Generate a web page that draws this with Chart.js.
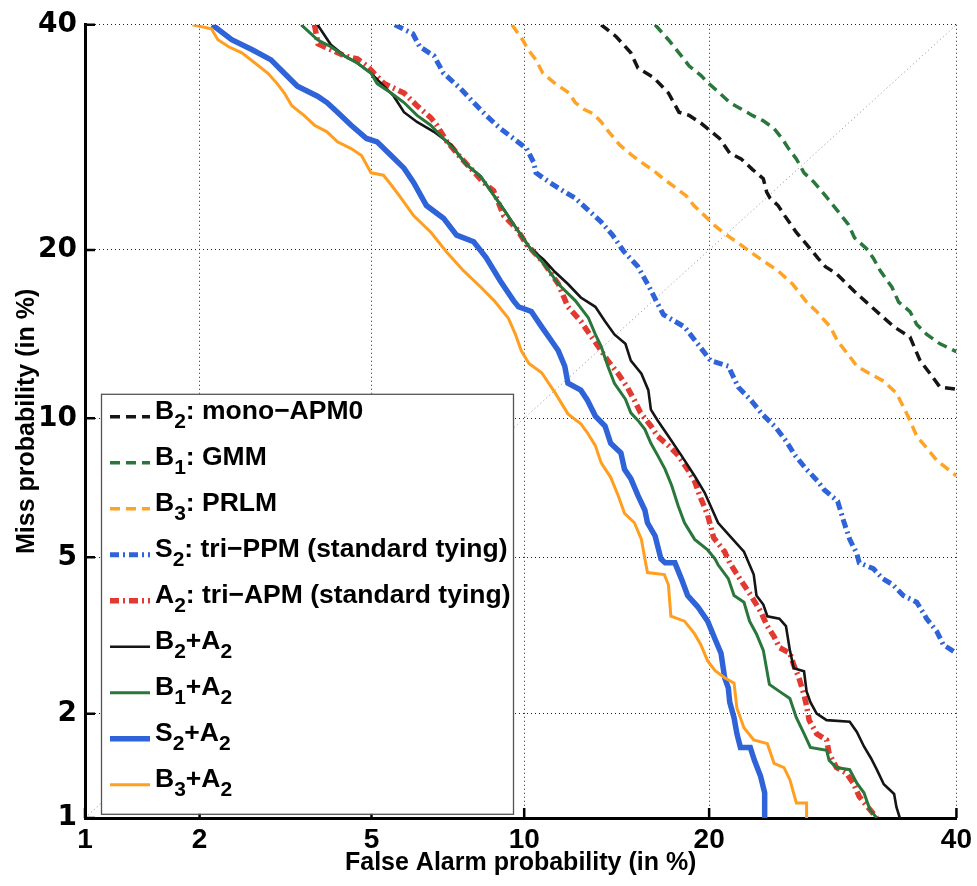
<!DOCTYPE html>
<html><head><meta charset="utf-8">
<script src="https://cdn.jsdelivr.net/npm/chart.js@4.4.1/dist/chart.umd.min.js"></script>
<style>html,body{margin:0;padding:0;background:#fff;}canvas{display:block;}</style>
</head><body>
<canvas id="c" width="977" height="886" style="width:977px;height:886px"></canvas>
<script>
// ---------------- data (percent: [false alarm, miss]) ----------------
const tickValues = [1, 2, 5, 10, 20, 40];
const xTitle = 'False Alarm probability (in %)';
const yTitle = 'Miss probability (in %)';
const seriesNames = ['B₂: mono−APM0', 'B₁: GMM', 'B₃: PRLM', 'S₂: tri−PPM (standard tying)',
  'A₂: tri−APM (standard tying)', 'B₂+A₂', 'B₁+A₂', 'S₂+A₂', 'B₃+A₂'];

const B2_mono = [[13.6,40],[14.4,38.8],[15.2,37.2],[15.6,35.7],[16.5,34.8],[17.4,33.3],[18.05,31.5],[18.7,31.2],[19.45,30.5],[19.9,30.0],[20.7,29.1],[21.4,27.8],[22.2,27.3],[23.0,26.4],[23.8,25.6],[24.05,24.5],[24.3,24.0],[24.9,23.4],[25.4,22.6],[26.3,21.3],[27.1,20.4],[28.0,19.4],[28.6,18.8],[29.5,18.3],[31.0,17.1],[32.0,16.4],[33.2,15.6],[34.4,14.85],[35.8,14.25],[36.7,12.9],[37.6,12.2],[38.5,11.5],[40,11.4]];
const B1_gmm = [[16.6,40],[17.4,38.5],[18.05,37.2],[18.7,35.9],[19.45,35.0],[19.9,34.3],[20.7,33.3],[21.4,32.4],[22.2,31.8],[23.0,31.2],[23.8,30.7],[24.6,30.0],[25.2,29.1],[25.7,28.2],[26.3,27.3],[26.9,26.1],[27.7,25.3],[28.6,24.2],[29.5,23.1],[30.5,21.9],[31.0,20.9],[32.0,20.1],[32.6,19.4],[33.2,18.5],[34.2,17.4],[34.8,16.4],[35.8,15.8],[36.4,15.0],[37.3,14.4],[38.5,13.85],[40,13.4]];
const B3_prlm = [[9.5,40],[9.93,38.5],[10.17,37.5],[10.5,36.5],[10.8,35.2],[11.3,34.3],[12.0,33.3],[12.3,32.4],[12.7,31.8],[13.2,31.35],[13.6,30.6],[14.0,29.7],[14.6,28.5],[15.2,27.7],[15.8,27.0],[16.5,26.3],[17.1,25.6],[17.8,24.9],[18.5,24.2],[19.0,23.4],[19.7,22.6],[20.4,21.8],[21.2,21.1],[22.0,20.5],[22.8,19.9],[23.8,19.2],[24.9,18.5],[26.0,17.6],[27.1,16.4],[27.9,15.8],[29.0,14.85],[29.6,14.0],[30.4,13.3],[31.2,12.6],[32.3,12.2],[33.5,11.8],[34.6,11.2],[35.2,10.55],[35.8,9.9],[36.4,9.2],[37.3,8.7],[38.2,8.2],[40,7.6]];
const S2_ppm = [[5.6,40],[6.1,39.1],[6.3,37.8],[6.73,36.9],[7.03,35.2],[7.6,33.7],[8.05,32.4],[8.5,31.2],[9.04,30.0],[9.56,29.1],[10.1,28.2],[10.4,27.0],[10.5,26.1],[11.1,25.3],[11.8,24.5],[12.3,24.0],[12.9,23.1],[13.6,22.1],[14.2,21.1],[14.8,19.9],[15.6,18.8],[16.25,17.4],[16.7,16.4],[17.1,15.6],[18.4,14.85],[19.2,13.9],[20.1,12.9],[21.3,12.6],[22.0,11.5],[22.9,10.85],[23.7,10.2],[24.7,9.6],[25.5,9.0],[26.2,8.4],[27.0,7.9],[28.0,7.4],[28.5,7.1],[29.6,6.7],[30.1,6.05],[30.6,5.5],[31.2,5.1],[31.4,4.85],[32.6,4.7],[33.4,4.45],[34.3,4.3],[35.2,4.05],[36.4,3.9],[37.3,3.55],[38.2,3.3],[38.8,3.05],[40,2.9]];
const A2_apm = [[3.75,40],[3.82,38.1],[4.37,36.9],[4.66,36.6],[4.89,35.9],[5.32,34.2],[5.85,33.3],[6.22,32.1],[6.63,31.0],[6.82,30.3],[7.12,28.9],[7.6,27.4],[8.05,26.2],[8.4,25.3],[8.78,24.6],[9.17,22.6],[9.68,21.6],[10.1,20.4],[10.83,19.1],[11.5,17.6],[11.95,16.1],[12.57,15.2],[12.9,14.6],[13.45,13.7],[13.95,12.9],[14.5,12.2],[15.0,11.5],[15.4,10.85],[15.75,10.25],[16.35,9.65],[16.75,9.2],[17.4,8.8],[18.0,8.4],[18.6,7.85],[19.05,7.4],[19.45,6.8],[19.9,6.25],[20.3,5.55],[21.05,5.15],[21.4,4.85],[22.1,4.45],[22.9,4.05],[23.6,3.7],[24.1,3.4],[24.6,3.2],[25.0,3.0],[25.8,2.9],[26.1,2.7],[26.5,2.5],[26.9,2.25],[27.1,2.1],[27.3,1.92],[27.9,1.76],[28.7,1.69],[28.9,1.55],[29.5,1.41],[30.3,1.36],[30.9,1.27],[31.4,1.16],[32.3,1.06],[32.9,1.0]];
const B2_A2 = [[3.81,40],[4.08,38.0],[4.37,36.9],[4.66,36.2],[4.99,35.2],[5.14,34.6],[5.57,33.0],[5.85,31.5],[6.22,30.6],[6.73,29.7],[7.26,28.6],[7.6,27.4],[7.8,26.8],[8.3,25.8],[8.67,24.6],[9.17,23.1],[9.68,21.6],[10.26,20.1],[10.83,19.3],[11.36,18.4],[11.95,17.6],[12.57,16.7],[13.3,16.1],[13.8,15.2],[14.3,14.4],[14.9,13.85],[15.2,12.9],[15.8,12.2],[16.2,11.35],[16.35,10.4],[16.75,9.9],[17.4,9.2],[18.2,8.4],[19.05,7.6],[19.7,7.0],[20.6,6.0],[21.4,5.6],[22.4,5.15],[23.1,4.55],[23.3,4.05],[23.8,3.85],[24.1,3.6],[25.0,3.55],[25.5,3.4],[25.8,2.95],[26.1,2.65],[26.9,2.6],[27.1,2.3],[27.4,2.15],[27.9,2.0],[28.7,1.92],[30.6,1.9],[31.2,1.78],[31.8,1.62],[32.4,1.5],[32.9,1.39],[33.5,1.26],[34.4,1.18],[34.6,1.08],[34.9,1.0]];
const B1_A2 = [[3.5,40],[3.81,38.5],[4.08,37.8],[4.37,36.9],[4.66,36.2],[4.99,35.2],[5.14,34.2],[5.5,33.3],[5.85,32.4],[6.22,31.2],[6.63,30.3],[7.03,29.1],[7.46,27.9],[7.8,26.8],[8.3,25.8],[8.67,24.6],[9.17,23.1],[9.68,21.6],[10.26,20.1],[10.9,18.9],[11.5,17.6],[12.3,16.5],[12.95,15.4],[13.3,14.4],[13.6,13.7],[13.95,12.6],[14.3,11.7],[14.9,10.9],[15.2,10.25],[15.6,9.9],[16.0,9.5],[16.35,8.9],[16.75,8.4],[17.2,7.85],[17.6,7.25],[18.0,6.55],[18.4,6.0],[19.05,5.5],[19.9,5.2],[20.4,4.95],[20.6,4.8],[21.3,4.45],[21.7,4.05],[22.4,3.9],[22.8,3.5],[23.3,3.25],[23.8,2.95],[24.25,2.4],[25.0,2.3],[25.8,2.2],[26.3,1.95],[26.9,1.76],[27.4,1.61],[28.7,1.58],[28.9,1.48],[29.5,1.41],[30.6,1.39],[31.2,1.27],[31.8,1.19],[32.3,1.06],[32.9,1.0]];
const S2_A2 = [[2.15,40],[2.4,38.5],[2.69,37.5],[2.98,36.5],[3.2,35.2],[3.43,33.95],[3.81,33.0],[4.0,32.4],[4.22,31.5],[4.52,30.3],[4.88,29.1],[5.14,28.8],[5.5,27.6],[5.85,26.5],[6.12,25.3],[6.5,23.4],[7.03,22.4],[7.46,21.1],[8.05,20.6],[8.5,19.45],[9.04,17.8],[9.56,16.5],[9.76,16.1],[10.3,15.8],[10.75,14.85],[11.2,14.0],[11.5,13.45],[11.8,12.6],[11.95,11.7],[12.57,11.35],[12.9,10.85],[13.3,10.1],[13.8,9.65],[14.1,8.9],[14.65,8.5],[14.85,7.85],[15.2,7.5],[15.6,6.9],[16.0,6.4],[16.15,6.0],[16.6,5.6],[16.95,4.95],[17.2,4.85],[17.8,4.85],[18.2,4.45],[18.6,4.05],[19.25,3.8],[19.9,3.5],[20.4,3.15],[20.8,2.9],[21.05,2.5],[21.3,2.35],[21.4,2.15],[21.7,1.95],[21.9,1.76],[22.15,1.61],[22.85,1.61],[23.15,1.48],[23.6,1.33],[23.9,1.19],[23.9,1.0]];
const B3_A2 = [[1.92,40],[2.14,39.6],[2.22,38.5],[2.36,37.8],[2.54,37.2],[2.73,36.2],[2.93,35.2],[3.08,34.2],[3.2,33.3],[3.33,32.1],[3.55,31.2],[3.75,30.3],[4.0,29.7],[4.22,28.8],[4.52,28.2],[4.76,27.6],[4.99,26.1],[5.3,25.9],[5.5,25.1],[5.77,24.0],[6.12,22.6],[6.64,21.3],[7.13,19.85],[7.7,18.5],[8.3,17.4],[8.8,16.5],[9.35,15.4],[9.64,14.4],[9.88,13.45],[10.2,12.75],[10.75,12.25],[11.36,11.2],[11.95,10.2],[12.57,9.75],[12.9,9.35],[13.3,8.8],[13.6,8.1],[14.1,7.55],[14.5,6.9],[14.85,6.3],[15.4,6.0],[15.8,5.5],[16.0,4.95],[16.15,4.6],[17.15,4.55],[17.4,4.3],[17.55,3.6],[18.4,3.5],[19.05,3.25],[19.45,3.05],[19.9,2.77],[20.4,2.61],[21.05,2.5],[21.7,2.42],[21.9,2.07],[22.4,1.83],[23.1,1.69],[24.1,1.65],[24.6,1.45],[25.35,1.41],[25.8,1.3],[26.3,1.11],[27.1,1.11],[27.1,1.0]];
const diagonal = [[1, 1], [40, 40]];

const seriesData = [B2_mono, B1_gmm, B3_prlm, S2_ppm, A2_apm, B2_A2, B1_A2, S2_A2, B3_A2];

// ---------------- styles ----------------
const seriesStyles = [
  {color: '#151515', width: 3.5, dash: [10, 6]},
  {color: '#2a773b', width: 3.5, dash: [10, 6]},
  {color: '#ffa325', width: 3.5, dash: [10, 6]},
  {color: '#2f63d8', width: 5, dash: [9, 4, 2, 4]},
  {color: '#e23a30', width: 5.5, dash: [9, 4, 2, 4]},
  {color: '#151515', width: 2.6, dash: []},
  {color: '#2a773b', width: 3, dash: []},
  {color: '#2f63d8', width: 5.5, dash: []},
  {color: '#ff9e1f', width: 3, dash: []}
];

// ---------------- probit (normal deviate) scale ----------------
function probit(p) {
  const a = [-3.969683028665376e+01, 2.209460984245205e+02, -2.759285104469687e+02, 1.383577518672690e+02, -3.066479806614716e+01, 2.506628277459239e+00];
  const b = [-5.447609879822406e+01, 1.615858368580409e+02, -1.556989798598866e+02, 6.680131188771972e+01, -1.328068155288572e+01];
  const c = [-7.784894002430293e-03, -3.223964580411365e-01, -2.400758277161838e+00, -2.549732539343734e+00, 4.374664141464968e+00, 2.938163982698783e+00];
  const d = [7.784695709041462e-03, 3.224671290700398e-01, 2.445134137142996e+00, 3.754408661907416e+00];
  const pl = 0.02425, ph = 1 - pl;
  let q, r;
  if (p < pl) {
    q = Math.sqrt(-2 * Math.log(p));
    return (((((c[0]*q+c[1])*q+c[2])*q+c[3])*q+c[4])*q+c[5]) / ((((d[0]*q+d[1])*q+d[2])*q+d[3])*q+1);
  }
  if (p <= ph) {
    q = p - 0.5; r = q * q;
    return (((((a[0]*r+a[1])*r+a[2])*r+a[3])*r+a[4])*r+a[5])*q / (((((b[0]*r+b[1])*r+b[2])*r+b[3])*r+b[4])*r+1);
  }
  q = Math.sqrt(-2 * Math.log(1 - p));
  return -(((((c[0]*q+c[1])*q+c[2])*q+c[3])*q+c[4])*q+c[5]) / ((((d[0]*q+d[1])*q+d[2])*q+d[3])*q+1);
}
function normCdf(z) {
  const t = 1 / (1 + 0.3275911 * Math.abs(z) / Math.SQRT2);
  const e = 1 - (((((1.061405429*t - 1.453152027)*t) + 1.421413741)*t - 0.284496736)*t + 0.254829592)*t*Math.exp(-z*z/2);
  return 0.5 * (1 + (z >= 0 ? e : -e));
}

class ProbitScale extends Chart.LinearScale {
  determineDataLimits() {
    this.min = this.options.min;
    this.max = this.options.max;
  }
  buildTicks() { return tickValues.map(v => ({value: v})); }
  configure() {
    super.configure();
    this._zMin = probit(this.min / 100);
    this._zMax = probit(this.max / 100);
  }
  getPixelForValue(v) {
    return this.getPixelForDecimal((probit(v / 100) - this._zMin) / (this._zMax - this._zMin));
  }
  getValueForPixel(px) {
    return 100 * normCdf(this._zMin + this.getDecimalForPixel(px) * (this._zMax - this._zMin));
  }
}
ProbitScale.id = 'probit';
ProbitScale.defaults = {};
Chart.register(ProbitScale);

// ---------------- plugins ----------------
const innerTicks = {
  id: 'innerTicks',
  afterDatasetsDraw(chart) {
    const {ctx, chartArea: a, scales: {x, y}} = chart;
    ctx.save();
    ctx.strokeStyle = '#000';
    ctx.lineWidth = 2.5;
    ctx.beginPath();
    y.ticks.forEach(t => { const py = y.getPixelForValue(t.value); ctx.moveTo(a.left, py); ctx.lineTo(a.left + 10, py); });
    x.ticks.forEach(t => { const px = x.getPixelForValue(t.value); ctx.moveTo(px, a.bottom); ctx.lineTo(px, a.bottom - 10); });
    ctx.stroke();
    ctx.restore();
  }
};

const subMap = {'₀':'0','₁':'1','₂':'2','₃':'3','₄':'4','₅':'5','₆':'6','₇':'7','₈':'8','₉':'9'};
const detLegend = {
  id: 'detLegend',
  afterDatasetsDraw(chart) {
    const {ctx, chartArea: a} = chart;
    const L = a.left + 16, T = a.top + 369, W = 412, H = 420;
    ctx.save();
    ctx.fillStyle = '#fff';
    ctx.fillRect(L, T, W, H);
    ctx.strokeStyle = '#555';
    ctx.lineWidth = 1.3;
    ctx.strokeRect(L + 0.5, T + 0.5, W, H);
    const bigFont = 'bold 26.5px "Liberation Sans", Arial, sans-serif';
    const subFont = 'bold 21px "Liberation Sans", Arial, sans-serif';
    let row = 0;
    chart.data.datasets.forEach(ds => {
      if (!ds.inLegend) return;
      const yy = T + 23 + 46 * row;
      ctx.save();
      ctx.strokeStyle = ds.borderColor;
      ctx.lineWidth = ds.borderWidth;
      ctx.setLineDash(ds.borderDash || []);
      ctx.beginPath();
      ctx.moveTo(L + 9, yy);
      ctx.lineTo(L + 49, yy);
      ctx.stroke();
      ctx.restore();
      let tx = L + 54;
      const base = yy + 2;
      ctx.fillStyle = '#000';
      ctx.textBaseline = 'alphabetic';
      ctx.textAlign = 'left';
      let buf = '';
      const flush = () => {
        if (!buf) return;
        ctx.font = bigFont;
        ctx.fillText(buf, tx, base);
        tx += ctx.measureText(buf).width;
        buf = '';
      };
      for (const ch of ds.label) {
        if (subMap[ch]) {
          flush();
          ctx.font = subFont;
          ctx.fillText(subMap[ch], tx, base + 9);
          tx += ctx.measureText(subMap[ch]).width;
        } else {
          buf += ch;
        }
      }
      flush();
      row++;
    });
    ctx.restore();
  }
};

// ---------------- chart ----------------
const toPoints = arr => arr.map(([x, y]) => ({x, y}));
const datasets = seriesData.map((arr, i) => ({
  label: seriesNames[i],
  data: toPoints(arr),
  borderColor: seriesStyles[i].color,
  backgroundColor: seriesStyles[i].color,
  borderWidth: seriesStyles[i].width,
  borderDash: seriesStyles[i].dash,
  pointRadius: 0,
  tension: 0,
  fill: false,
  order: seriesData.length - i,
  inLegend: true
}));
datasets.push({
  label: 'diagonal',
  data: toPoints(diagonal),
  borderColor: '#8c8c8c',
  borderWidth: 1,
  borderDash: [1, 3],
  pointRadius: 0,
  fill: false,
  order: 100,
  inLegend: false
});

const sansBold = "'Liberation Sans', Arial, sans-serif";
new Chart(document.getElementById('c'), {
  type: 'line',
  data: {datasets},
  plugins: [innerTicks, detLegend],
  options: {
    responsive: false,
    maintainAspectRatio: false,
    devicePixelRatio: 1,
    animation: false,
    layout: {padding: {top: 18, right: 17, bottom: 0, left: 0}},
    plugins: {legend: {display: false}, tooltip: {enabled: false}},
    scales: {
      x: {
        type: 'probit', min: 1, max: 40, position: 'bottom',
        afterFit(s) { s.height = 68; },
        grid: {color: '#222', lineWidth: 1, drawTicks: false},
        border: {display: true, color: '#000', width: 3, dash: [1, 3]},
        ticks: {padding: 5, color: '#000', autoSkip: false, maxRotation: 0,
          font: {family: sansBold, weight: 'bold', size: 28}, callback: v => String(v)},
        title: {display: true, text: xTitle, color: '#000', padding: {top: 0, bottom: 8},
          font: {family: sansBold, weight: 'bold', size: 25}}
      },
      y: {
        type: 'probit', min: 1, max: 40, position: 'left',
        afterFit(s) { s.width = 85; },
        grid: {color: '#222', lineWidth: 1, drawTicks: false},
        border: {display: true, color: '#000', width: 3, dash: [1, 3]},
        ticks: {padding: 8, color: '#000', autoSkip: false,
          font: {family: "'DejaVu Sans', sans-serif", weight: 'bold', size: 28}, callback: v => String(v)},
        title: {display: true, text: yTitle, color: '#000', padding: {top: 12, bottom: 0},
          font: {family: sansBold, weight: 'bold', size: 25}}
      }
    }
  }
});
</script>
</body></html>
